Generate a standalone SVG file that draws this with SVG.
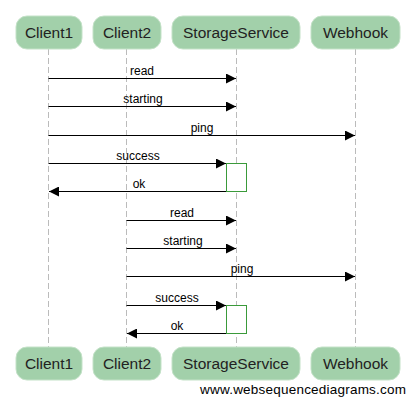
<svg xmlns="http://www.w3.org/2000/svg" width="415" height="404" viewBox="0 0 415 404">
<style>
.box{fill:#a2d0aa;stroke:#c4e2c8;stroke-width:1}
.bt{font-family:"Liberation Sans",Arial,sans-serif;font-size:15.5px;fill:#222;text-anchor:middle}
.life{stroke:#bbbbbb;stroke-width:1;stroke-dasharray:6,3;fill:none}
.msg{stroke:#000;stroke-width:1;fill:none}
.lbl{font-family:"Liberation Sans",Arial,sans-serif;font-size:12px;fill:#000;text-anchor:middle}
.act{fill:#fff;stroke:#3a9a3a;stroke-width:1}
.foot{font-family:"Liberation Sans",Arial,sans-serif;font-size:13.5px;fill:#000}
</style>
<defs>
<marker id="ah" viewBox="0 0 10 10" refX="10" refY="5" markerWidth="10" markerHeight="10" markerUnits="userSpaceOnUse" orient="auto">
<path d="M0,0 L10,5 L0,10 Z" fill="#000"/>
</marker>
</defs>
<rect width="415" height="404" fill="#fff"/>
<g id="lifelines">
<line class="life" x1="48.5" y1="49" x2="48.5" y2="347"/>
<line class="life" x1="126.5" y1="49" x2="126.5" y2="347"/>
<line class="life" x1="236.5" y1="49" x2="236.5" y2="347"/>
<line class="life" x1="355.5" y1="49" x2="355.5" y2="347"/>
</g>
<g id="activations">
<rect class="act" x="226.5" y="163.5" width="20" height="28"/>
<rect class="act" x="226.5" y="305.5" width="20" height="28"/>
</g>
<g id="connectors">
<line class="msg" x1="48.5" y1="78.5" x2="236" y2="78.5" marker-end="url(#ah)"/>
<text class="lbl" x="142" y="75">read</text>
<line class="msg" x1="48.5" y1="106.5" x2="236" y2="106.5" marker-end="url(#ah)"/>
<text class="lbl" x="143" y="103">starting</text>
<line class="msg" x1="48.5" y1="135.5" x2="355" y2="135.5" marker-end="url(#ah)"/>
<text class="lbl" x="202" y="132">ping</text>
<line class="msg" x1="48.5" y1="163.5" x2="226" y2="163.5" marker-end="url(#ah)"/>
<text class="lbl" x="138" y="160">success</text>
<line class="msg" x1="226" y1="191.5" x2="49" y2="191.5" marker-end="url(#ah)"/>
<text class="lbl" x="139" y="188">ok</text>
<line class="msg" x1="126.5" y1="220.5" x2="236" y2="220.5" marker-end="url(#ah)"/>
<text class="lbl" x="182" y="217">read</text>
<line class="msg" x1="126.5" y1="248.5" x2="236" y2="248.5" marker-end="url(#ah)"/>
<text class="lbl" x="183" y="245">starting</text>
<line class="msg" x1="126.5" y1="276.5" x2="355" y2="276.5" marker-end="url(#ah)"/>
<text class="lbl" x="242" y="273">ping</text>
<line class="msg" x1="126.5" y1="305.5" x2="226" y2="305.5" marker-end="url(#ah)"/>
<text class="lbl" x="177" y="302">success</text>
<line class="msg" x1="226" y1="333.5" x2="127" y2="333.5" marker-end="url(#ah)"/>
<text class="lbl" x="177" y="330">ok</text>
</g>
<g id="Client1-top"><rect class="box" x="16" y="16" width="66" height="33" rx="11"/><text class="bt" x="49" y="38">Client1</text></g>
<g id="Client2-top"><rect class="box" x="93" y="16" width="68" height="33" rx="11"/><text class="bt" x="127" y="38">Client2</text></g>
<g id="StorageService-top"><rect class="box" x="172" y="16" width="128" height="33" rx="11"/><text class="bt" x="236" y="38">StorageService</text></g>
<g id="Webhook-top"><rect class="box" x="311" y="16" width="89" height="33" rx="11"/><text class="bt" x="355.5" y="38">Webhook</text></g>
<g id="Client1-bottom"><rect class="box" x="16" y="347" width="66" height="33" rx="11"/><text class="bt" x="49" y="369">Client1</text></g>
<g id="Client2-bottom"><rect class="box" x="93" y="347" width="68" height="33" rx="11"/><text class="bt" x="127" y="369">Client2</text></g>
<g id="StorageService-bottom"><rect class="box" x="172" y="347" width="128" height="33" rx="11"/><text class="bt" x="236" y="369">StorageService</text></g>
<g id="Webhook-bottom"><rect class="box" x="311" y="347" width="89" height="33" rx="11"/><text class="bt" x="355.5" y="369">Webhook</text></g>
<text class="foot" x="200" y="394" textLength="206" lengthAdjust="spacing">www.websequencediagrams.com</text>
</svg>
